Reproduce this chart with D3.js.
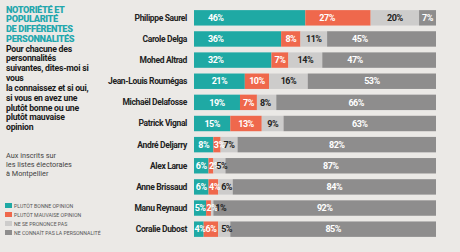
<!DOCTYPE html>
<html>
<head>
<meta charset="utf-8">
<script src="https://cdn.jsdelivr.net/npm/d3@7"></script>
<style>
  body { margin: 0; background: #ebe9e6; }
  svg { display: block; font-family: Roboto, "Noto Sans", sans-serif; }
</style>
</head>
<body>
<div id="chart"></div>
<script>
// data
var names = ["Philippe Saurel", "Carole Delga", "Mohed Altrad", "Jean-Louis Roumégas",
    "Michaël Delafosse", "Patrick Vignal", "André Deljarry", "Alex Larue",
    "Anne Brissaud", "Manu Reynaud", "Coralie Dubost"];
var bonne = [46, 36, 32, 21, 19, 15, 8, 6, 6, 5, 4];
var mauvaise = [27, 8, 7, 10, 7, 13, 3, 2, 4, 2, 6];
var nsp = [20, 11, 14, 16, 8, 9, 7, 5, 6, 1, 5];
var inconnu = [7, 45, 47, 53, 66, 63, 82, 87, 84, 92, 85];
var legendLabels = ["PLUTÔT BONNE OPINION", "PLUTÔT MAUVAISE OPINION",
    "NE SE PRONONCE PAS", "NE CONNAÎT PAS LA PERSONNALITÉ"];
var titleLines = ["NOTORIÉTÉ ET", "POPULARITÉ", "DE DIFFÉRENTES", "PERSONNALITÉS"];
var introLines = ["Pour chacune des", "personnalités", "suivantes, dites-moi si", "vous",
    "la connaissez et si oui,", "si vous en avez une", "plutôt bonne ou une",
    "plutôt mauvaise", "opinion"];
var noteLines = ["Aux inscrits sur", "les listes électorales", "à Montpellier"];

var colors = ["#1fa9a4", "#ef684c", "#cdcccb", "#8e8d8d"];
var labelColors = ["#fff", "#fff", "#222", "#fff"];

// setup
var width = 460,
    height = 252;

var svg = d3.select("#chart").append("svg")
    .attr("width", width)
    .attr("height", height);

svg.append("rect")
    .attr("width", width)
    .attr("height", height)
    .attr("fill", "#ebe9e6");

var xScale = d3.scaleLinear()
    .domain([0, 100])
    .range([194, 436]);

var yScale = d3.scaleBand()
    .domain(names)
    .range([8, 239])
    .paddingInner(0.27)
    .paddingOuter(0.1);

var series = [bonne, mauvaise, nsp, inconnu];

// stack rows
var rows = names.map(function (n, i) {
    var x0 = 0;
    return series.map(function (s, k) {
        var seg = { name: n, k: k, v: s[i], x0: x0, x1: x0 + s[i] };
        x0 += s[i];
        return seg;
    });
});
var segs = [].concat.apply([], rows);

// bars
svg.selectAll("rect.seg")
    .data(segs)
    .enter().append("rect")
    .attr("class", "seg")
    .attr("x", function (d) { return xScale(d.x0); })
    .attr("y", function (d) { return yScale(d.name); })
    .attr("width", function (d) { return xScale(d.x1) - xScale(d.x0); })
    .attr("height", yScale.bandwidth())
    .attr("fill", function (d) { return colors[d.k]; });

// value labels: placement depends on segment width
function segW(d) { return xScale(d.x1) - xScale(d.x0); }

function labelPos(d) {
    var w = segW(d);
    if ((d.k < 2 && w > 60) || (d.k == 3 && d.v < 50 && w > 60))
        return [xScale(d.x0) + (d.k == 3 ? 25 : 14), "start"];
    if (w < 4) return [xScale(d.x1) + 2, "start"];
    if (w < 10) return [xScale(d.x0) + 0.5, "start"];
    if (d.k == 2 && w < 20) return [xScale(d.x0) + 3, "start"];
    return [(xScale(d.x0) + xScale(d.x1)) / 2, "middle"];
}

svg.selectAll("text.val")
    .data(segs)
    .enter().append("text")
    .attr("class", "val")
    .attr("x", function (d) { return labelPos(d)[0]; })
    .attr("text-anchor", function (d) { return labelPos(d)[1]; })
    .attr("y", function (d) { return yScale(d.name) + yScale.bandwidth() / 2; })
    .attr("dy", "0.35em")
    .attr("font-size", 9)
    .attr("font-weight", "bold")
    .attr("letter-spacing", -0.5)
    .attr("fill", function (d) { return labelColors[d.k]; })
    .text(function (d) { return d.v + "%"; });

// names
svg.selectAll("text.name")
    .data(names)
    .enter().append("text")
    .attr("class", "name")
    .attr("x", 187)
    .attr("y", function (d) { return yScale(d) + yScale.bandwidth() / 2; })
    .attr("dy", "0.35em")
    .attr("text-anchor", "end")
    .attr("font-size", 8.5)
    .attr("font-weight", "bold")
    .attr("letter-spacing", -0.35)
    .attr("fill", "#222")
    .text(function (d) { return d; });

// title block
svg.selectAll("text.title")
    .data(titleLines)
    .enter().append("text")
    .attr("class", "title")
    .attr("x", 6)
    .attr("y", function (d, i) { return 12.5 + i * 9.7; })
    .attr("font-size", 9.2)
    .attr("font-weight", "900")
    .attr("letter-spacing", -0.35)
    .attr("fill", "#23a7ad")
    .text(function (d) { return d; });

svg.selectAll("text.intro")
    .data(introLines)
    .enter().append("text")
    .attr("class", "intro")
    .attr("x", 6)
    .attr("y", function (d, i) { return 51.5 + i * 9.7 + (i > 3 ? 1 : 0); })
    .attr("font-size", 8.7)
    .attr("font-weight", "bold")
    .attr("letter-spacing", -0.25)
    .attr("fill", "#1a1a1a")
    .text(function (d) { return d; });

svg.selectAll("text.note")
    .data(noteLines)
    .enter().append("text")
    .attr("class", "note")
    .attr("x", 6)
    .attr("y", function (d, i) { return 158 + i * 8.8; })
    .attr("font-size", 7.3)
    .attr("fill", "#444")
    .text(function (d) { return d; });

// legend
var legend = svg.selectAll("g.leg")
    .data(legendLabels)
    .enter().append("g")
    .attr("class", "leg")
    .attr("transform", function (d, i) { return "translate(5," + (203 + i * 9) + ")"; });

legend.append("rect")
    .attr("width", 7)
    .attr("height", 5)
    .attr("fill", function (d, i) { return colors[i]; });

legend.append("text")
    .attr("x", 9)
    .attr("y", 4.5)
    .attr("font-size", 5.2)
    .attr("fill", "#555")
    .text(function (d) { return d; });
</script>
</body>
</html>
